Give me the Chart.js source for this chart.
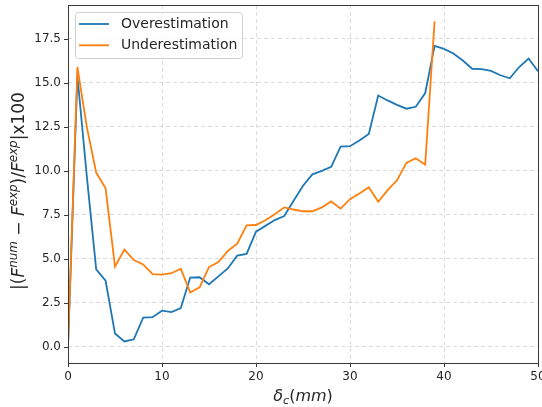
<!DOCTYPE html>
<html>
<head>
<meta charset="utf-8">
<script src="https://cdn.jsdelivr.net/npm/chart.js@4.4.1/dist/chart.umd.min.js"></script>
<style>
  html, body { margin: 0; padding: 0; background: #fff; }
  #wrap { width: 542px; height: 407px; }
</style>
</head>
<body>
<div id="wrap"><canvas id="errChart" width="542" height="407"></canvas></div>
<script>
// crack opening values (mm)
const delta = [0, 1, 2, 3, 4, 5, 6, 7, 8, 9, 10, 11, 12, 13, 14, 15, 16, 17, 18, 19, 20,
  21, 22, 23, 24, 25, 26, 27, 28, 29, 30, 31, 32, 33, 34, 35, 36, 37, 38, 39, 40,
  41, 42, 43, 44, 45, 46, 47, 48, 49, 50];

// relative error, percent
const overEst = [0, 15.4, 9.7, 4.4, 3.75, 0.75, 0.3, 0.42, 1.65, 1.68, 2.05,
  1.97, 2.2, 3.93, 3.95, 3.55, 4.0, 4.45, 5.18, 5.28, 6.54,
  6.87, 7.2, 7.43, 8.3, 9.15, 9.8, 10.0, 10.23, 11.38, 11.4,
  11.72, 12.1, 14.28, 14.0, 13.75, 13.53, 13.64, 14.42, 17.1, 16.93,
  16.67, 16.27, 15.8, 15.78, 15.68, 15.43, 15.26, 15.9, 16.38, 15.66];

const underEst = [0, 15.9, 12.5, 9.9, 9.0, 4.55, 5.52, 4.93, 4.68, 4.13, 4.1,
  4.18, 4.43, 3.08, 3.38, 4.53, 4.81, 5.44, 5.86, 6.9, 6.92,
  7.19, 7.53, 7.92, 7.8, 7.7, 7.7, 7.92, 8.26, 7.85, 8.39,
  8.71, 9.06, 8.24, 8.9, 9.46, 10.45, 10.71, 10.35, 18.5];

const xTicks = [0, 10, 20, 30, 40, 50];
const yTicks = [0, 2.5, 5, 7.5, 10, 12.5, 15, 17.5];

const colors = {
  blue: '#1f77b4',
  orange: '#ff7f0e',
  grid: 'rgba(176,176,176,0.45)',
  spine: '#3a3a3a',
  text: '#262626'
};
const FONT = '"DejaVu Sans", sans-serif';

const toPoints = vals => vals.map((v, i) => ({ x: delta[i], y: v }));

// draws text made of runs: {t, it, sup, sub}
function drawRich(ctx, runs, cx, cy, size) {
  const fontFor = r => {
    const s = (r.sup || r.sub) ? size * 0.7 : size;
    return `${r.it ? 'oblique ' : ''}${s}px ${FONT}`;
  };
  let total = 0;
  runs.forEach(r => { ctx.font = fontFor(r); total += ctx.measureText(r.t).width; });
  let x = cx - total / 2;
  ctx.textBaseline = 'alphabetic';
  ctx.textAlign = 'left';
  runs.forEach(r => {
    ctx.font = fontFor(r);
    let y = cy + size * 0.35;
    if (r.sup) y -= size * 0.42;
    if (r.sub) y += size * 0.22;
    ctx.fillText(r.t, x, y);
    x += ctx.measureText(r.t).width;
  });
}

const framePlugin = {
  id: 'frame',
  afterDraw(chart) {
    const { ctx, chartArea: a, scales } = chart;
    ctx.save();
    // spines
    ctx.strokeStyle = colors.spine;
    ctx.lineWidth = 1;
    ctx.strokeRect(Math.round(a.left) + 0.5, Math.round(a.top) + 0.5,
      Math.round(a.right - a.left), Math.round(a.bottom - a.top));
    // outward tick marks
    ctx.beginPath();
    xTicks.forEach(v => {
      const px = Math.round(scales.x.getPixelForValue(v)) + 0.5;
      ctx.moveTo(px, a.bottom);
      ctx.lineTo(px, a.bottom + 4);
    });
    yTicks.forEach(v => {
      const py = Math.round(scales.y.getPixelForValue(v)) + 0.5;
      ctx.moveTo(a.left, py);
      ctx.lineTo(a.left - 4, py);
    });
    ctx.stroke();

    // axis titles
    ctx.fillStyle = colors.text;
    drawRich(ctx, [
      { t: 'δ', it: true }, { t: 'c', it: true, sub: true },
      { t: '(' }, { t: 'mm', it: true }, { t: ')' }
    ], (a.left + a.right) / 2, 395, 16);

    ctx.save();
    ctx.translate(18, 191);
    ctx.rotate(-Math.PI / 2);
    drawRich(ctx, [
      { t: '|(' }, { t: 'F', it: true }, { t: 'num', it: true, sup: true },
      { t: ' − ' }, { t: 'F', it: true }, { t: 'exp', it: true, sup: true },
      { t: ')/' }, { t: 'F', it: true }, { t: 'exp', it: true, sup: true },
      { t: '|x100' }
    ], 0, 0, 17);
    ctx.restore();

    // legend box, upper left
    const bx = 75.5, by = 12.5, bw = 167, bh = 46;
    ctx.fillStyle = 'rgba(255,255,255,0.8)';
    ctx.strokeStyle = '#d0d0d0';
    ctx.lineWidth = 1;
    ctx.beginPath();
    ctx.roundRect(bx, by, bw, bh, 3);
    ctx.fill();
    ctx.stroke();
    ctx.font = `14px ${FONT}`;
    ctx.textBaseline = 'middle';
    ctx.textAlign = 'left';
    chart.data.datasets.forEach((ds, i) => {
      const ry = 24 + i * 21.3;
      ctx.strokeStyle = ds.borderColor;
      ctx.lineWidth = 1.8;
      ctx.beginPath();
      ctx.moveTo(79, ry);
      ctx.lineTo(109, ry);
      ctx.stroke();
      ctx.fillStyle = colors.text;
      ctx.fillText(ds.label, 121, ry + 0.5);
    });
    ctx.restore();
  }
};

new Chart(document.getElementById('errChart').getContext('2d'), {
  type: 'line',
  data: {
    datasets: [{
      label: 'Overestimation',
      data: toPoints(overEst),
      borderColor: colors.blue,
      borderWidth: 1.8,
      pointRadius: 0,
      tension: 0,
      order: 1
    }, {
      label: 'Underestimation',
      data: toPoints(underEst),
      borderColor: colors.orange,
      borderWidth: 1.8,
      pointRadius: 0,
      tension: 0,
      order: 0
    }]
  },
  options: {
    responsive: false,
    animation: false,
    devicePixelRatio: 1,
    layout: { padding: { top: 5, right: 4, left: 0, bottom: 0 } },
    plugins: { legend: { display: false }, tooltip: { enabled: false } },
    scales: {
      x: {
        type: 'linear',
        min: 0,
        max: 50,
        afterBuildTicks: s => { s.ticks = xTicks.map(v => ({ value: v })); },
        afterFit: s => { s.height = 44; s.paddingLeft = 0; s.paddingRight = 0; },
        grid: { color: colors.grid, drawTicks: false, lineWidth: 1 },
        border: { display: false, dash: [4, 3] },
        ticks: { color: colors.text, font: { family: FONT, size: 12 }, padding: 7, maxRotation: 0 }
      },
      y: {
        min: -0.925,
        max: 19.425,
        afterBuildTicks: s => { s.ticks = yTicks.map(v => ({ value: v })); },
        afterFit: s => { s.width = 68; s.paddingTop = 0; s.paddingBottom = 0; },
        grid: { color: colors.grid, drawTicks: false, lineWidth: 1 },
        border: { display: false, dash: [4, 3] },
        ticks: {
          color: colors.text,
          font: { family: FONT, size: 12 },
          padding: 7,
          callback: v => v.toFixed(1)
        }
      }
    }
  },
  plugins: [framePlugin]
});
</script>
</body>
</html>
